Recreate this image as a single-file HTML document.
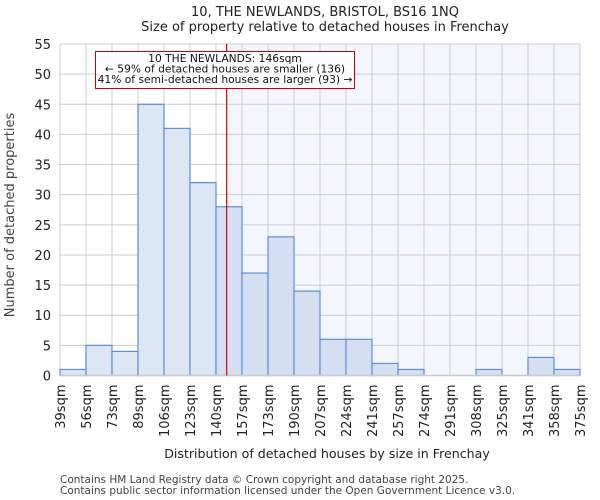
<!DOCTYPE html>
<html><head><meta charset="utf-8"><style>
body{margin:0;background:#fff;}
svg{display:block;font-family:"DejaVu Sans","Liberation Sans",sans-serif;}
</style></head><body>
<svg id="c" width="600" height="500" viewBox="0 0 600 500">
<text x="325" y="16" text-anchor="middle" font-size="13" fill="#222">10, THE NEWLANDS, BRISTOL, BS16 1NQ</text>
<text x="325" y="31" text-anchor="middle" font-size="13" fill="#222">Size of property relative to detached houses in Frenchay</text>
<g id="plot"></g>
<text x="327" y="458" text-anchor="middle" font-size="12.6" fill="#222">Distribution of detached houses by size in Frenchay</text>
<text transform="translate(14,215) rotate(-90)" text-anchor="middle" font-size="13" fill="#444">Number of detached properties</text>
<text x="60" y="483" font-size="10.5" fill="#444">Contains HM Land Registry data © Crown copyright and database right 2025.</text>
<text x="60" y="494" font-size="10.5" fill="#444">Contains public sector information licensed under the Open Government Licence v3.0.</text>
</svg>
<script>
const binLabels=["39sqm","56sqm","73sqm","89sqm","106sqm","123sqm","140sqm","157sqm","173sqm","190sqm","207sqm","224sqm","241sqm","257sqm","274sqm","291sqm","308sqm","325sqm","341sqm","358sqm","375sqm"];
const counts=[1,5,4,45,41,32,28,17,23,14,6,6,2,1,0,0,1,0,3,1];
const yTicks=[0,5,10,15,20,25,30,35,40,45,50,55];
const markerBin=6.41;
const annotationLines=["10 THE NEWLANDS: 146sqm","← 59% of detached houses are smaller (136)","41% of semi-detached houses are larger (93) →"];

const NS="http://www.w3.org/2000/svg";
const L=60,R=580,T=44,B=375.5,yMax=55;
const n=counts.length,bw=(R-L)/n;
const x=i=>L+i*bw, y=v=>B-(v/yMax)*(B-T);
const g=document.getElementById('plot');
function mk(t,a){const e=document.createElementNS(NS,t);for(const k in a)e.setAttribute(k,a[k]);g.appendChild(e);return e;}
const mx=x(markerBin);
let e=mk('rect',{x:L,y:T,width:R-L,height:B-T,fill:'#fff'});


e=mk('rect',{x:mx,y:T,width:R-mx,height:B-T,fill:'#f3f6fd'});


yTicks.forEach(t=>{
 e=mk('line',{x1:L,x2:R,y1:y(t),y2:y(t),stroke:'#ccc','stroke-width':1});
 
 
 e=mk('text',{x:L-9,y:y(t)+5,'text-anchor':'end','font-size':13,fill:'#222'});
 e.textContent=t;
 
 
});
binLabels.forEach((lab,i)=>{
 e=mk('line',{x1:x(i),x2:x(i),y1:T,y2:B,stroke:'#ccc','stroke-width':1});
 
 
 e=mk('text',{transform:`translate(${x(i)+5},${B+9}) rotate(-90)`,'text-anchor':'end','font-size':13,fill:'#222'});
 e.textContent=lab;
 
 
});
counts.forEach((v,i)=>{
 if(v<=0)return;
 e=mk('rect',{x:x(i),y:y(v),width:bw,height:B-y(v),fill:i<markerBin-0.5?'#dce6f4':'#d4e0f2',stroke:'#5b8fd6','stroke-width':1.2});
 
 
});
e=mk('line',{x1:L,x2:R,y1:B,y2:B,stroke:'#ccc','stroke-width':1.5});


e=mk('line',{x1:mx,x2:mx,y1:T,y2:B,stroke:'#d00','stroke-width':1.2});


e=mk('rect',{x:95.5,y:51.5,width:259,height:37,fill:'#fff',stroke:'#c00','stroke-width':1});


annotationLines.forEach((s,i)=>{
 e=mk('text',{x:225,y:62+i*10.5,'text-anchor':'middle','font-size':10.7,fill:'#111'});
 e.textContent=s;
 
 
});
</script>
</body></html>
